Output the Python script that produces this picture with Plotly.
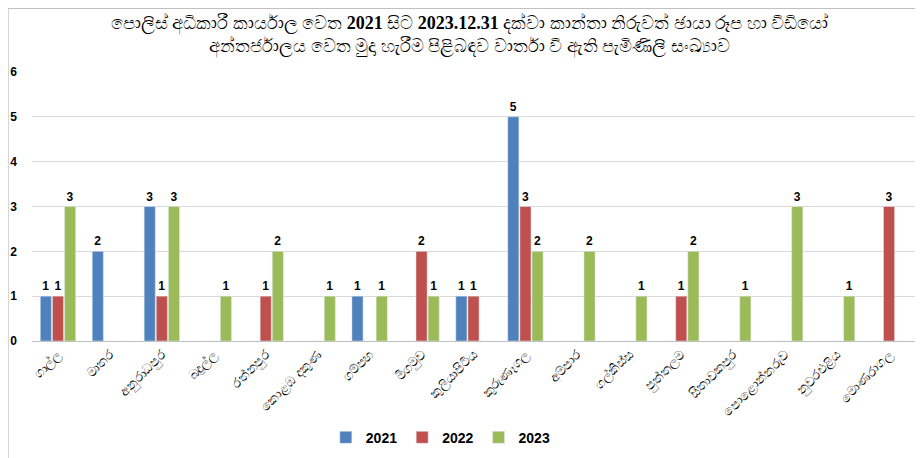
import plotly.graph_objects as go

districts = ["ගාල්ල", "මාතර", "අනුරාධපුර", "බදුල්ල", "රත්නපුර", "කොළඹ දකුණ",
             "ගම්පහ", "මීගමුව", "කුලියාපිටිය", "කුරුණෑගල", "අම්පාර", "ගල්කිස්ස",
             "පුත්තලම", "සීතාවකපුර", "පොළොන්නරුව", "නුවරඑළිය", "මොණරාගල"]
y2021 = [1, 2, 3, 0, 0, 0, 1, 0, 1, 5, 0, 0, 0, 0, 0, 0, 0]
y2022 = [1, 0, 1, 0, 1, 0, 0, 2, 1, 3, 0, 0, 1, 0, 0, 0, 3]
y2023 = [3, 0, 3, 1, 2, 1, 1, 1, 0, 2, 2, 1, 2, 1, 3, 1, 0]

series = [("2021", y2021, "#4F81BD"), ("2022", y2022, "#C0504D"), ("2023", y2023, "#9BBB59")]

title = ("පොලිස් අධිකාරී කාර්යාල වෙත <b>2021</b> සිට <b>2023.12.31</b> දක්වා කාන්තා නිරුවත් ඡායා රූප හා වීඩියෝ"
         "<br>අන්තර්ජාලය වෙත මුදා හැරීම පිළිබඳව වාර්තා වී ඇති පැමිණිලි සංඛ්‍යාව")

fig = go.Figure()
for name, vals, color in series:
    fig.add_trace(go.Bar(
        x=districts, y=vals, name=f"<b>{name}</b>", marker_color=color,
        text=[str(v) if v else "" for v in vals], textposition="outside",
        texttemplate="<b>%{text}</b>",
        textfont=dict(size=12, color="black", family="Arial"),
        cliponaxis=False,
    ))

fig.update_layout(
    width=923, height=458,
    barmode="group", bargap=0.3, bargroupgap=0.08,
    plot_bgcolor="white", paper_bgcolor="white",
    margin=dict(l=24, r=16, t=64, b=125, autoexpand=False),
    title=dict(text=title, x=0.5, xanchor="center", y=0.955, yanchor="middle",
               font=dict(size=18, color="black", family="Times New Roman, Liberation Serif")),
    legend=dict(orientation="h", x=0.463, xanchor="center", y=-0.3, yanchor="top",
                font=dict(size=14, color="black", family="Arial"),
                itemwidth=30, traceorder="normal"),
    font=dict(family="Arial", color="black"),
)
fig.update_xaxes(tickangle=-45, tickfont=dict(size=13, color="black"),
                 showline=True, linecolor="#BFBFBF", ticks="", automargin=False)
fig.update_yaxes(range=[0, 6], dtick=1, showgrid=True, gridcolor="#D9D9D9",
                 zeroline=False, tickfont=dict(size=12, color="black", family="Arial", weight="bold"),
                 ticks="", ticklabelstandoff=14, automargin=False)
fig.add_shape(type="rect", xref="paper", yref="paper",
              x0=-0.027, x1=1.016, y0=-0.46, y1=1.236,
              line=dict(color="#BFBFBF", width=1))

fig.write_html("out.html")
